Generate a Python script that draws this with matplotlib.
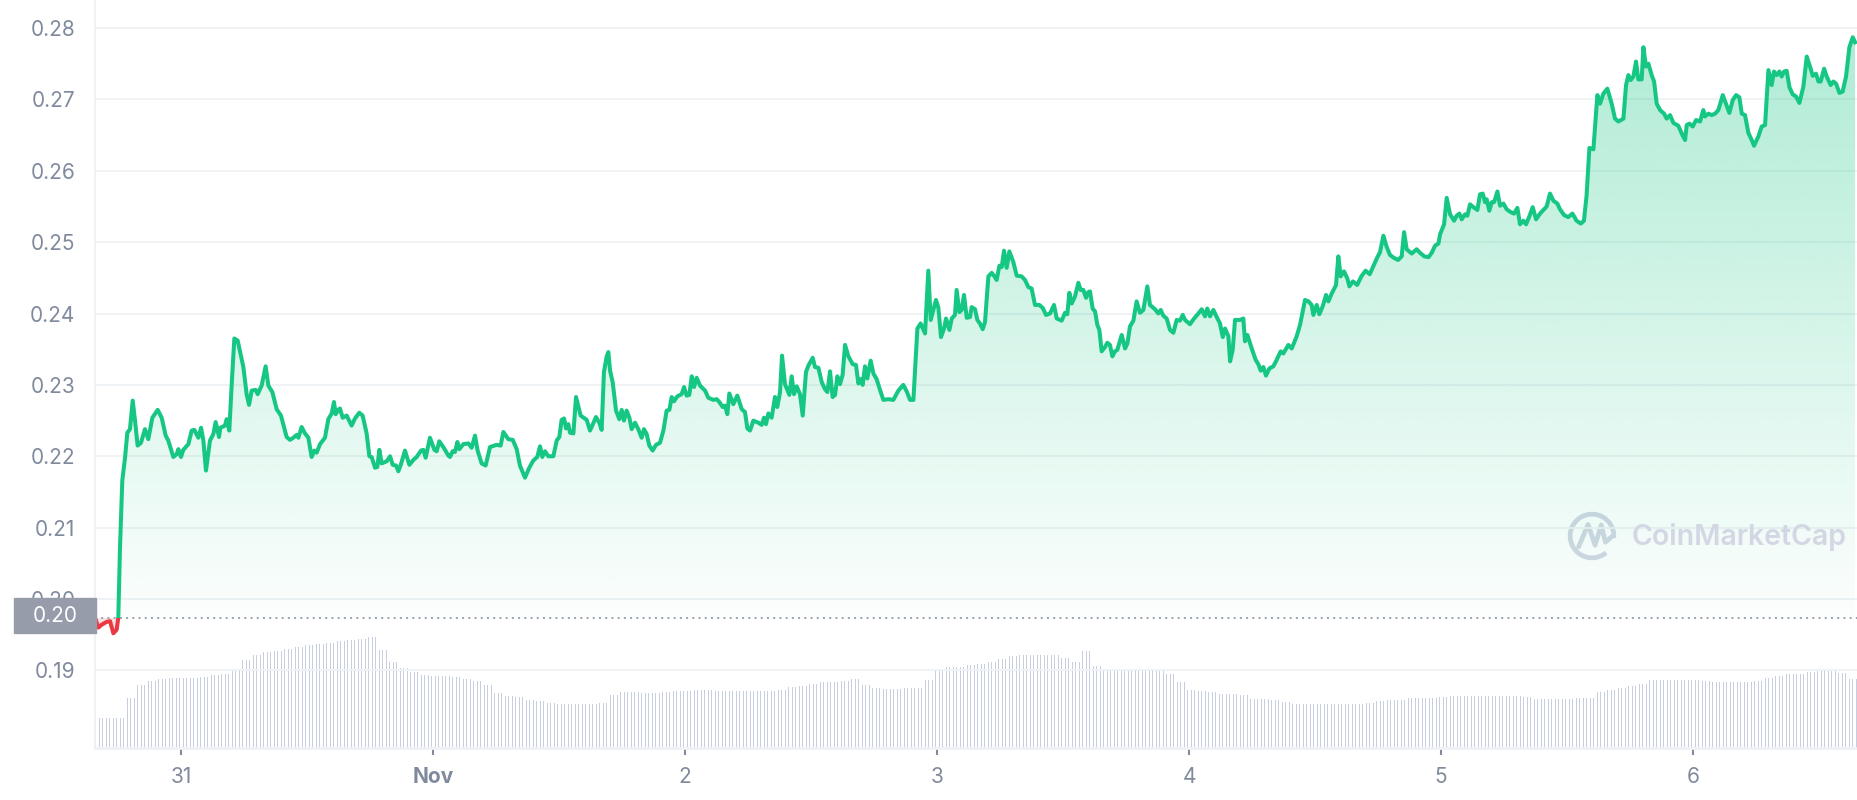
import numpy as np
import pandas as pd
import matplotlib
matplotlib.use("Agg")
import matplotlib.pyplot as plt
import matplotlib.dates as mdates
from matplotlib.colors import to_rgb
from matplotlib.patches import Polygon, Rectangle, Arc

plt.rcParams['font.family'] = ['Inter', 'DejaVu Sans']

GREEN = '#16c784'
RED = '#ea3943'
TXT = '#808a9d'
GRID = '#eff2f5'

# first point of the window, price at open (dotted reference line)
start = pd.Timestamp('2021-10-30 15:48')
open_price = 0.1974
window_hours = 167.9

# price samples: (hours since start, price in USD)
seg_oct30 = [
    (0.00, 0.1974), (0.32, 0.1960), (0.63, 0.1964), (1.11, 0.1968), (1.43, 0.1969),
    (1.75, 0.1952), (2.06, 0.1957), (2.22, 0.1974), (2.38, 0.2072), (2.60, 0.2166),
    (2.86, 0.2198), (3.08, 0.2233), (3.33, 0.2238), (3.59, 0.2278), (3.81, 0.2250),
    (4.06, 0.2215), (4.38, 0.2219), (4.76, 0.2238), (5.08, 0.2224), (5.46, 0.2254),
    (5.97, 0.2265), (6.35, 0.2254), (6.73, 0.2229), (6.98, 0.2222), (7.46, 0.2199),
    (7.78, 0.2203), (7.94, 0.2210), (8.19, 0.2199), (8.41, 0.2209), (8.89, 0.2217),
    (9.21, 0.2236), (9.46, 0.2237), (9.84, 0.2226), (10.10, 0.2240), (10.32, 0.2222),
    (10.57, 0.2180), (10.95, 0.2222), (11.27, 0.2231), (11.49, 0.2248), (11.81, 0.2227),
    (11.94, 0.2240), (12.38, 0.2243), (12.54, 0.2252), (12.79, 0.2236), (13.02, 0.2301),
    (13.27, 0.2365), (13.59, 0.2362), (14.13, 0.2325), (14.44, 0.2287), (14.67, 0.2272),
    (14.92, 0.2292), (15.30, 0.2293), (15.49, 0.2287), (15.87, 0.2299), (16.25, 0.2326),
    (16.51, 0.2299), (16.89, 0.2290), (17.30, 0.2266), (17.71, 0.2257), (18.25, 0.2227),
    (18.57, 0.2223), (18.89, 0.2226), (19.21, 0.2230), (19.37, 0.2226), (19.68, 0.2241),
    (20.00, 0.2232), (20.32, 0.2226), (20.63, 0.2199), (20.89, 0.2208), (21.11, 0.2205),
    (21.43, 0.2217), (21.90, 0.2226), (22.22, 0.2252), (22.54, 0.2260), (22.76, 0.2276),
    (22.92, 0.2259), (23.17, 0.2265),
]
seg_oct31 = [
    (23.33, 0.2267), (23.59, 0.2254), (23.97, 0.2257), (24.44, 0.2243), (24.76, 0.2253),
    (25.17, 0.2261), (25.49, 0.2257), (25.87, 0.2232), (26.13, 0.2200), (26.35, 0.2199),
    (26.67, 0.2184), (26.89, 0.2185), (27.08, 0.2209), (27.30, 0.2190), (27.78, 0.2193),
    (28.10, 0.2200), (28.35, 0.2188), (28.67, 0.2187), (28.89, 0.2179), (29.14, 0.2189),
    (29.52, 0.2208), (29.94, 0.2188), (30.32, 0.2195), (30.63, 0.2199), (31.05, 0.2208),
    (31.27, 0.2209), (31.49, 0.2198), (31.90, 0.2226), (32.32, 0.2209), (32.54, 0.2207),
    (32.79, 0.2221), (33.17, 0.2213), (33.65, 0.2201), (33.81, 0.2199), (34.06, 0.2207),
    (34.28, 0.2206), (34.51, 0.2220), (34.70, 0.2210), (35.08, 0.2217), (35.56, 0.2218),
    (35.87, 0.2212), (36.19, 0.2229), (36.44, 0.2208), (36.82, 0.2190), (37.20, 0.2187),
    (37.62, 0.2213), (38.25, 0.2216), (38.63, 0.2215), (38.89, 0.2234), (39.36, 0.2224),
    (39.78, 0.2223), (40.16, 0.2210), (40.47, 0.2187), (40.95, 0.2170), (41.36, 0.2184),
    (41.74, 0.2194), (42.12, 0.2199), (42.38, 0.2214), (42.60, 0.2199), (42.86, 0.2207),
    (43.17, 0.2200), (43.65, 0.2200), (43.97, 0.2222), (44.22, 0.2227), (44.44, 0.2251),
    (44.67, 0.2253), (44.86, 0.2239), (45.08, 0.2245), (45.24, 0.2233), (45.56, 0.2232),
    (45.81, 0.2283), (46.25, 0.2257), (46.83, 0.2251),
]
seg_nov1 = [
    (47.14, 0.2236), (47.39, 0.2244), (47.71, 0.2255), (48.03, 0.2247), (48.25, 0.2237),
    (48.47, 0.2318), (48.73, 0.2340), (48.89, 0.2346), (49.05, 0.2320), (49.30, 0.2304),
    (49.62, 0.2264), (49.93, 0.2252), (50.16, 0.2265), (50.38, 0.2250), (50.63, 0.2264),
    (50.89, 0.2254), (51.11, 0.2238), (51.43, 0.2247), (51.74, 0.2238), (52.06, 0.2226),
    (52.28, 0.2238), (52.54, 0.2231), (52.79, 0.2215), (53.11, 0.2208), (53.43, 0.2216),
    (53.81, 0.2219), (54.13, 0.2236), (54.44, 0.2264), (54.70, 0.2265), (54.92, 0.2283),
    (55.14, 0.2277), (55.46, 0.2284), (55.87, 0.2287), (56.10, 0.2297), (56.35, 0.2285),
    (56.60, 0.2286), (56.83, 0.2312), (57.05, 0.2297), (57.30, 0.2310), (57.62, 0.2299),
    (58.10, 0.2292), (58.41, 0.2282), (58.89, 0.2279), (59.21, 0.2280), (59.46, 0.2276),
    (59.78, 0.2269), (60.00, 0.2271), (60.22, 0.2259), (60.41, 0.2288), (60.79, 0.2273),
    (61.17, 0.2285), (61.59, 0.2266), (61.90, 0.2262), (62.13, 0.2239), (62.38, 0.2236),
    (62.70, 0.2250), (63.17, 0.2247), (63.49, 0.2244), (63.71, 0.2254), (63.90, 0.2245),
    (64.13, 0.2260), (64.44, 0.2254), (64.76, 0.2283), (64.98, 0.2269), (65.24, 0.2290),
    (65.43, 0.2341), (65.71, 0.2301), (66.13, 0.2286), (66.35, 0.2312), (66.57, 0.2287),
    (66.83, 0.2298), (67.14, 0.2287), (67.40, 0.2257), (67.71, 0.2318), (67.94, 0.2327),
    (68.35, 0.2338), (68.57, 0.2325), (68.89, 0.2324), (69.21, 0.2304), (69.52, 0.2294),
    (69.75, 0.2290), (70.00, 0.2319), (70.25, 0.2283), (70.48, 0.2286), (70.70, 0.2312),
    (70.95, 0.2301),
]
seg_nov2 = [
    (71.20, 0.2314), (71.43, 0.2356), (71.75, 0.2340), (72.16, 0.2329), (72.47, 0.2328),
    (72.70, 0.2302), (72.92, 0.2308), (73.11, 0.2300), (73.33, 0.2326), (73.55, 0.2309),
    (73.87, 0.2334), (74.13, 0.2316), (74.44, 0.2308), (74.76, 0.2293), (75.08, 0.2279),
    (75.55, 0.2280), (76.03, 0.2279), (76.51, 0.2292), (76.98, 0.2300), (77.30, 0.2291),
    (77.62, 0.2279), (77.94, 0.2279), (78.32, 0.2379), (78.63, 0.2386), (79.05, 0.2372),
    (79.36, 0.2460), (79.59, 0.2391), (79.84, 0.2405), (80.09, 0.2419), (80.32, 0.2408),
    (80.57, 0.2367), (80.86, 0.2379), (81.05, 0.2393), (81.37, 0.2377), (81.59, 0.2393),
    (81.90, 0.2398), (82.06, 0.2433), (82.32, 0.2402), (82.54, 0.2405), (82.76, 0.2426),
    (83.02, 0.2394), (83.33, 0.2395), (83.49, 0.2409), (83.81, 0.2406), (84.03, 0.2391),
    (84.28, 0.2386), (84.54, 0.2378), (84.76, 0.2388), (85.08, 0.2452), (85.40, 0.2457),
    (85.71, 0.2451), (85.87, 0.2447), (86.13, 0.2467), (86.35, 0.2465), (86.57, 0.2488),
    (86.82, 0.2464), (87.08, 0.2487), (87.46, 0.2472), (87.78, 0.2453), (88.25, 0.2452),
    (88.57, 0.2447), (88.89, 0.2437), (89.20, 0.2435), (89.52, 0.2412), (89.93, 0.2412),
    (90.25, 0.2408), (90.57, 0.2398), (90.95, 0.2400), (91.33, 0.2412), (91.59, 0.2393),
    (92.06, 0.2390), (92.38, 0.2401), (92.60, 0.2399), (92.79, 0.2429), (93.02, 0.2414),
    (93.33, 0.2424), (93.65, 0.2443), (93.87, 0.2433), (94.13, 0.2433), (94.38, 0.2422),
    (94.60, 0.2430),
]
seg_nov3 = [
    (94.76, 0.2431), (95.01, 0.2407), (95.24, 0.2403), (95.46, 0.2384), (95.65, 0.2377),
    (95.87, 0.2347), (96.19, 0.2353), (96.41, 0.2359), (96.66, 0.2356), (96.89, 0.2340),
    (97.14, 0.2347), (97.36, 0.2349), (97.78, 0.2370), (98.10, 0.2351), (98.32, 0.2358),
    (98.57, 0.2382), (98.89, 0.2390), (99.20, 0.2417), (99.52, 0.2401), (99.84, 0.2405),
    (100.22, 0.2438), (100.47, 0.2412), (100.95, 0.2406), (101.27, 0.2400), (101.49, 0.2405),
    (101.74, 0.2397), (102.06, 0.2393), (102.38, 0.2377), (102.70, 0.2373), (103.01, 0.2391),
    (103.33, 0.2390), (103.59, 0.2398), (103.81, 0.2391), (104.28, 0.2385), (104.67, 0.2393),
    (105.08, 0.2400), (105.40, 0.2406), (105.71, 0.2396), (105.93, 0.2407), (106.19, 0.2396),
    (106.51, 0.2405), (106.83, 0.2395), (107.14, 0.2386), (107.40, 0.2367), (107.62, 0.2379),
    (107.94, 0.2368), (108.10, 0.2333), (108.35, 0.2349), (108.57, 0.2391), (109.05, 0.2391),
    (109.36, 0.2393), (109.52, 0.2361), (109.75, 0.2370), (110.16, 0.2351), (110.54, 0.2335),
    (110.79, 0.2329), (111.02, 0.2320), (111.27, 0.2325), (111.52, 0.2313), (111.84, 0.2323),
    (112.22, 0.2326), (112.47, 0.2333), (112.92, 0.2347), (113.17, 0.2344), (113.65, 0.2356),
    (113.97, 0.2351), (114.44, 0.2368), (114.76, 0.2384), (115.24, 0.2419), (115.56, 0.2417),
    (115.87, 0.2412), (116.03, 0.2398), (116.35, 0.2412), (116.60, 0.2399), (116.92, 0.2410),
    (117.24, 0.2426), (117.46, 0.2417), (117.78, 0.2428), (118.19, 0.2440), (118.41, 0.2480),
    (118.63, 0.2452), (118.95, 0.2459), (119.27, 0.2449), (119.46, 0.2438),
]
seg_nov4 = [
    (119.80, 0.2445), (120.20, 0.2440), (120.60, 0.2452), (121.00, 0.2460), (121.40, 0.2455),
    (121.80, 0.2468), (122.10, 0.2478), (122.38, 0.2486), (122.70, 0.2509), (123.02, 0.2493),
    (123.33, 0.2482), (123.70, 0.2478), (124.10, 0.2475), (124.44, 0.2480), (124.67, 0.2514),
    (124.92, 0.2490), (125.40, 0.2484), (125.87, 0.2490), (126.19, 0.2485), (126.60, 0.2480),
    (127.00, 0.2479), (127.30, 0.2485), (127.62, 0.2495), (127.94, 0.2498), (128.10, 0.2511),
    (128.48, 0.2525), (128.73, 0.2562), (129.05, 0.2539), (129.43, 0.2530), (129.68, 0.2537),
    (129.94, 0.2540), (130.16, 0.2532), (130.48, 0.2539), (130.70, 0.2537), (130.95, 0.2553),
    (131.27, 0.2549), (131.65, 0.2545), (131.90, 0.2567), (132.16, 0.2568), (132.38, 0.2556),
    (132.54, 0.2560), (132.79, 0.2544), (133.02, 0.2556), (133.24, 0.2556), (133.56, 0.2571),
    (133.81, 0.2551), (134.13, 0.2554), (134.44, 0.2546), (134.83, 0.2542), (135.14, 0.2540),
    (135.46, 0.2548), (135.71, 0.2525), (136.03, 0.2530), (136.29, 0.2525), (136.60, 0.2536),
    (136.92, 0.2549), (137.24, 0.2532), (137.62, 0.2540), (138.00, 0.2546), (138.25, 0.2550),
    (138.57, 0.2568), (138.89, 0.2558), (139.27, 0.2554), (139.52, 0.2546),
]
seg_nov5 = [
    (139.90, 0.2538), (140.30, 0.2535), (140.70, 0.2540), (141.10, 0.2530), (141.50, 0.2526),
    (141.80, 0.2530), (142.05, 0.2565), (142.32, 0.2632), (142.70, 0.2630), (143.08, 0.2706),
    (143.33, 0.2694), (143.65, 0.2708), (144.03, 0.2715), (144.44, 0.2694), (144.76, 0.2673),
    (145.08, 0.2669), (145.56, 0.2673), (145.81, 0.2720), (146.03, 0.2734), (146.25, 0.2727),
    (146.51, 0.2732), (146.76, 0.2753), (146.98, 0.2728), (147.30, 0.2728), (147.46, 0.2773),
    (147.71, 0.2746), (147.94, 0.2750), (148.25, 0.2734), (148.48, 0.2725), (148.73, 0.2694),
    (149.05, 0.2685), (149.43, 0.2680), (149.68, 0.2673), (150.00, 0.2678), (150.32, 0.2667),
    (150.79, 0.2663), (151.21, 0.2649), (151.43, 0.2643), (151.59, 0.2664), (151.84, 0.2666),
    (152.16, 0.2662), (152.48, 0.2671), (152.86, 0.2669), (153.17, 0.2685), (153.33, 0.2676),
    (153.65, 0.2680), (153.97, 0.2678), (154.29, 0.2680), (154.60, 0.2685), (155.02, 0.2706),
    (155.40, 0.2691), (155.65, 0.2681), (155.97, 0.2699), (156.29, 0.2706), (156.60, 0.2703),
    (156.83, 0.2680), (157.14, 0.2678), (157.46, 0.2653), (157.78, 0.2643), (158.00, 0.2635),
    (158.41, 0.2648), (158.73, 0.2662), (159.05, 0.2664), (159.37, 0.2741), (159.68, 0.2720),
    (159.90, 0.2739), (160.16, 0.2734), (160.41, 0.2739), (160.63, 0.2732), (160.86, 0.2739),
    (161.11, 0.2740), (161.37, 0.2717), (161.68, 0.2707), (162.00, 0.2704), (162.32, 0.2695),
    (162.70, 0.2718), (163.02, 0.2760), (163.33, 0.2746), (163.59, 0.2733), (163.90, 0.2736),
    (164.13, 0.2725), (164.35, 0.2725), (164.67, 0.2743), (164.92, 0.2732), (165.30, 0.2720),
    (165.56, 0.2725), (165.81, 0.2722), (166.13, 0.2709), (166.44, 0.2711), (166.76, 0.2732),
    (167.08, 0.2773), (167.40, 0.2787), (167.62, 0.2780),
]

# volume, one value per hour (arbitrary units, bar height)
volume = [
    30, 30, 30,
    50, 63, 67, 69, 70, 70, 70, 71, 73, 74,
    79, 88, 93, 96, 97, 99, 101, 103, 104, 105, 107, 108, 109, 111,
    98, 86, 80, 76, 73, 72, 72, 71, 69, 67, 63, 55, 52, 51, 48, 47, 45, 44, 44, 44, 44, 45,
    53, 56, 56, 55, 55, 56, 57, 57, 58, 58, 57, 57, 57, 57, 57, 57, 58, 61, 62, 64,
    66, 66, 67, 69, 63, 60, 59, 59, 60, 60,
    68, 78, 81, 81, 83, 84, 86, 89, 92, 93, 93, 93, 93, 90, 86, 97, 82, 78, 78, 78, 78, 78, 78, 74,
    66, 58, 57, 56, 54, 54, 53, 49, 49, 48, 46, 44, 44, 44, 44, 44, 44, 44, 45, 47, 48, 48,
    50, 50, 50, 51,
    52, 52, 52, 52, 52, 52, 52, 51, 49, 49, 49, 49, 50, 50, 56, 58, 60, 62, 64, 68,
    68, 68, 68, 68, 67, 66, 66, 66, 66, 67, 70, 72, 74, 74, 76, 77, 77, 75, 69,
]
bars_per_hour = 3

day_labels = ['31', 'Nov', '2', '3', '4', '5', '6']
y_ticks = [0.19, 0.20, 0.21, 0.22, 0.23, 0.24, 0.25, 0.26, 0.27, 0.28]

# ---------------------------------------------------------------------------
pts = seg_oct30 + seg_oct31 + seg_nov1 + seg_nov2 + seg_nov3 + seg_nov4 + seg_nov5
hrs = np.array([p[0] for p in pts])
price = np.array([p[1] for p in pts])

def to_num(hours):
    return mdates.date2num(start + pd.to_timedelta(np.asarray(hours), unit='h'))

t = to_num(hrs)
t0 = to_num([0.0])[0]
t1 = to_num([window_hours])[0]

W, H = 1858, 800
fig = plt.figure(figsize=(W / 100, H / 100), dpi=100)
left, bottom_px = 95, 748
ax = fig.add_axes([left / W, (H - bottom_px) / H, (W - left) / W, bottom_px / H])

# volume on its own axis, drawn underneath the price axis
axv = ax.twinx()
axv.set_zorder(0)
ax.set_zorder(1)
ax.patch.set_visible(False)
vh = np.arange(len(volume) * bars_per_hour) / bars_per_hour
axv.bar(to_num(vh), np.repeat(volume, bars_per_hour), width=0.13 / 24,
        align='edge', color='#c6cedf', linewidth=0)
axv.set_ylim(0, bottom_px)
axv.set_axis_off()

ylo = 0.20 - 149 / 7140
yhi = 0.28 + 28 / 7140
ax.set_ylim(ylo, yhi)
ax.set_xlim(t0, t1)

# gradient fill under the line
green_rgb = to_rgb(GREEN)
grad = np.zeros((256, 1, 4))
grad[..., :3] = green_rgb
grad[:, 0, 3] = np.linspace(0.34, 0.015, 256)
im = ax.imshow(grad, extent=[t[0], t[-1], open_price, price.max()],
               aspect='auto', origin='upper', zorder=1, interpolation='bilinear')
poly = Polygon(np.column_stack([np.r_[t[0], t, t[-1]],
                                np.r_[open_price, price, open_price]]),
               closed=True, fc='none', ec='none')
ax.add_patch(poly)
im.set_clip_path(poly)
ax.fill_between(t, price, open_price, where=price < open_price, interpolate=True,
                color=RED, alpha=0.15, lw=0, zorder=1)

# reference line at the opening price
ax.axhline(open_price, color='#9aa1ae', lw=1.4, ls=(0, (1.0, 2.2)), zorder=2)

# price line, green above open, red below
lg, = ax.plot(t, price, color=GREEN, lw=2.9, zorder=4, solid_joinstyle='round')
lr, = ax.plot(t, price, color=RED, lw=2.9, zorder=4, solid_joinstyle='round')
lg.set_clip_path(Rectangle((t0 - 1, open_price), 30, 1, transform=ax.transData))
lr.set_clip_path(Rectangle((t0 - 1, open_price - 1), 30, 1, transform=ax.transData))

# axes styling
ax.set_yticks(y_ticks)
ax.set_yticklabels([f'{v:.2f}' for v in y_ticks])
ax.grid(axis='y', color=GRID, lw=1.3)
ax.set_axisbelow(True)
for s in ['top', 'right']:
    ax.spines[s].set_visible(False)
ax.spines['left'].set_color(GRID)
ax.spines['left'].set_linewidth(1.3)
ax.spines['bottom'].set_color(GRID)
ax.spines['bottom'].set_linewidth(2.0)
ax.tick_params(axis='y', length=0, pad=14, labelsize=15, labelcolor=TXT)

day_ticks = pd.date_range('2021-10-31', periods=len(day_labels), freq='D')
ax.set_xticks(mdates.date2num(day_ticks))
ax.set_xticklabels(day_labels)
ax.tick_params(axis='x', length=5, width=1.5, color=TXT, pad=9,
               labelsize=15, labelcolor=TXT)
ax.get_xticklabels()[1].set_fontweight('bold')

# current/open price tag on the left
fig.add_artist(Rectangle((14 / W, 1 - 633 / H), 82 / W, 35 / H,
                         transform=fig.transFigure, color='#979cab', zorder=5))
fig.text(55 / W, 1 - 616 / H, '0.20', color='white', fontsize=15,
         ha='center', va='center', zorder=6)

# watermark
wm = '#d3d7e4'
axl = fig.add_axes([(1592 - 28) / W, 1 - (536 + 28) / H, 56 / W, 56 / H])
axl.set_xlim(-1, 1)
axl.set_ylim(-1, 1)
axl.set_axis_off()
axl.add_patch(Arc((0, 0), 1.56, 1.56, theta1=-5, theta2=310, color=wm, lw=3.4))
axl.plot([-0.48, -0.14, 0.11, 0.33, 0.48, 0.70], [-0.39, 0.41, -0.33, 0.39, -0.22, -0.03],
         color=wm, lw=3.4, solid_capstyle='round', solid_joinstyle='round')
fig.text(1632 / W, 1 - 537 / H, 'CoinMarketCap', color=wm, fontsize=20.5,
         fontweight='semibold', ha='left', va='center')

fig.savefig('out.png', dpi=100, facecolor='white')
